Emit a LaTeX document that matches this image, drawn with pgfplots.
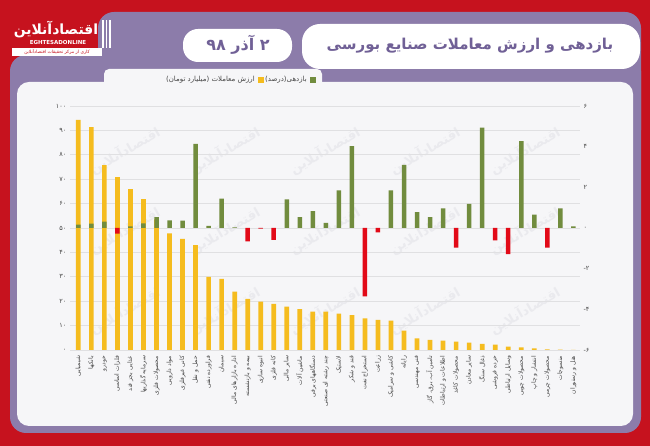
\documentclass[border=0pt]{standalone}
\usepackage{pgfplots}
\pgfplotsset{compat=1.18}
\usepackage{fontspec}
\setmainfont{DejaVu Sans}
\newfontfamily\fafont[Script=Arabic]{DejaVu Sans}
\TeXXeTstate=1

\definecolor{bgred}{RGB}{198,18,30}
\definecolor{framepurple}{RGB}{140,124,170}
\definecolor{titlepurple}{RGB}{112,96,150}
\definecolor{panelwhite}{RGB}{246,246,248}
\definecolor{watermark}{RGB}{234,234,238}
\definecolor{gridgray}{RGB}{224,224,226}
\definecolor{labelgray}{RGB}{70,70,70}
\definecolor{baryellow}{RGB}{245,188,30}
\definecolor{bargreen}{RGB}{113,140,62}
\definecolor{barred}{RGB}{226,10,24}

\begin{document}
\begin{tikzpicture}[x=1pt,y=1pt]
\useasboundingbox (0,0) rectangle (650,446);
% frame
\fill[bgred] (0,0) rectangle (650,446);
\fill[framepurple, rounded corners=16pt] (10,13) rectangle (641,391);
\fill[framepurple, rounded corners=16pt] (98,300) rectangle (641,434);
\fill[panelwhite, rounded corners=12pt] (17,20) rectangle (633,364);
\fill[panelwhite, rounded corners=5pt] (104,354) rectangle (322,377);
\fill[white, rounded corners=15pt] (183,384) rectangle (292,417);
\fill[white, rounded corners=18pt] (302,377) rectangle (640,422);
% watermark, kept inside the plot area, clear of the labels
\foreach \wx in {125,225,325,425,525}
  \foreach \wy in {135,215,295}
    \node[text=watermark, rotate=30, font=\fafont\fontsize{13}{14}\selectfont\bfseries] at (\wx,\wy) {\beginR اقتصادآنلاین\endR};
% title and date
\node[text=titlepurple, font=\fafont\fontsize{15}{16}\selectfont\bfseries] at (470,400) {\beginR بازدهی و ارزش معاملات صنایع بورسی\endR};
\node[text=titlepurple, font=\fafont\fontsize{16}{17}\selectfont\bfseries] at (238,401) {\beginR ۲ آذر ۹۸\endR};
% logo
\node[white, font=\fafont\fontsize{14}{15}\selectfont\bfseries] at (56,416) {\beginR اقتصادآنلاین\endR};
\node[white, font=\fontsize{5.5}{6}\selectfont\bfseries, inner sep=0pt] at (58,403) {EGHTESADONLINE};
\fill[white] (12,390) rectangle (102,398);
\node[bgred, font=\fafont\fontsize{4.5}{5}\selectfont, inner sep=0pt] at (57,394) {\beginR کاری از مرکز تحقیقات اقتصادآنلاین\endR};
\foreach \xx in {102,105.5,109} \fill[white] (\xx,398) rectangle (\xx+1.6,426);
% legend
\fill[bargreen] (310,363) rectangle (316,369);
\node[anchor=east, text=labelgray, font=\fafont\fontsize{7}{8}\selectfont, inner sep=0pt] at (307,366) {\beginR بازدهی(درصد)\endR};
\fill[baryellow] (258,363) rectangle (264,369);
\node[anchor=east, text=labelgray, font=\fafont\fontsize{7}{8}\selectfont, inner sep=0pt] at (255,366) {\beginR ارزش معاملات (میلیارد تومان)\endR};

\begin{axis}[
  at={(70pt,96pt)}, anchor=south west,
  width=510pt, height=244pt, scale only axis,
  xmin=-0.64, xmax=38.51, ymin=0, ymax=100,
  ybar, bar width=4.7pt,
  axis line style={draw=none},
  tick style={draw=none},
  ytick={0,10,...,100},
  yticklabels={۰,۱۰,۲۰,۳۰,۴۰,۵۰,۶۰,۷۰,۸۰,۹۰,۱۰۰},
  yticklabel style={font=\fafont\fontsize{6.5}{7}\selectfont, text=labelgray},
  ymajorgrids, grid style={gridgray, line width=0.8pt},
  xtick={0,...,38},
  xticklabels={
    {\beginR شیمیایی\endR},{\beginR بانکها\endR},{\beginR خودرو\endR},
    {\beginR فلزات اساسی\endR},{\beginR غذایی بجز قند\endR},{\beginR سرمایه گذاریها\endR},
    {\beginR محصولات فلزی\endR},{\beginR مواد دارویی\endR},{\beginR کانی غیرفلزی\endR},
    {\beginR حمل و نقل\endR},{\beginR فراورده نفتی\endR},{\beginR سیمان\endR},
    {\beginR اداره بازارهای مالی\endR},{\beginR بیمه و بازنشسته\endR},{\beginR انبوه سازی\endR},
    {\beginR کانه فلزی\endR},{\beginR سایر مالی\endR},{\beginR ماشین آلات\endR},
    {\beginR دستگاههای برقی\endR},{\beginR چند رشته ای صنعتی\endR},{\beginR لاستیک\endR},
    {\beginR قند و شکر\endR},{\beginR استخراج نفت\endR},{\beginR زراعت\endR},
    {\beginR کاشی و سرامیک\endR},{\beginR رایانه\endR},{\beginR فنی مهندسی\endR},
    {\beginR تامین آب، برق، گاز\endR},{\beginR اطلاعات و ارتباطات\endR},{\beginR محصولات کاغذ\endR},
    {\beginR سایر معادن\endR},{\beginR ذغال سنگ\endR},{\beginR خرده فروشی\endR},
    {\beginR وسایل ارتباطی\endR},{\beginR محصولات چوبی\endR},{\beginR انتشار و چاپ\endR},
    {\beginR محصولات چرمی\endR},{\beginR منسوجات\endR},{\beginR هتل و رستوران\endR}},
  xticklabel style={rotate=90, anchor=east, font=\fafont\fontsize{6}{7}\selectfont, text=labelgray, inner sep=1.5pt},
]
\addplot[draw=none, fill=baryellow] coordinates {
(0,94.3) (1,91.3) (2,75.8) (3,70.8) (4,65.9) (5,61.8) (6,53.5) (7,47.8) (8,45.5) (9,43.0)
(10,30.0) (11,29.1) (12,23.9) (13,20.9) (14,19.8) (15,18.9) (16,17.8) (17,16.7) (18,15.7) (19,15.7)
(20,14.9) (21,14.3) (22,13.0) (23,12.3) (24,12.0) (25,7.9) (26,4.8) (27,4.1) (28,3.8) (29,3.4)
(30,3.0) (31,2.5) (32,2.2) (33,1.4) (34,1.1) (35,0.7) (36,0.3) (37,0.2) (38,0.1)};
\end{axis}

\begin{axis}[
  at={(70pt,96pt)}, anchor=south west,
  width=510pt, height=244pt, scale only axis,
  xmin=-0.64, xmax=38.51, ymin=-6, ymax=6,
  axis x line=none, axis y line*=right,
  axis line style={draw=none},
  tick style={draw=none},
  ytick={-6,-4,...,6},
  yticklabels={۶-,۴-,۲-,۰,۲,۴,۶},
  yticklabel style={font=\fafont\fontsize{6.5}{7}\selectfont, text=labelgray},
  ybar, bar width=4.5pt,
]
\addplot[draw=none, fill=bargreen, bar shift=0pt] coordinates {
(0,0.17) (1,0.21) (2,0.31) (4,0.08) (5,0.23) (6,0.53) (7,0.38) (8,0.36) (9,4.14) (10,0.1)
(11,1.44) (12,0.03) (16,1.41) (17,0.53) (18,0.83) (19,0.25) (20,1.85) (21,4.02) (24,1.85)
(25,3.11) (26,0.78) (27,0.53) (28,0.96) (30,1.19) (31,4.93) (34,4.27) (35,0.66) (37,0.96) (38,0.08)};
\addplot[draw=none, fill=barred, bar shift=0pt] coordinates {
(3,-0.28) (13,-0.66) (14,-0.03) (15,-0.58) (22,-3.36) (23,-0.21) (29,-0.96) (32,-0.61)
(33,-1.29) (36,-0.96)};
\end{axis}
\end{tikzpicture}
\end{document}
